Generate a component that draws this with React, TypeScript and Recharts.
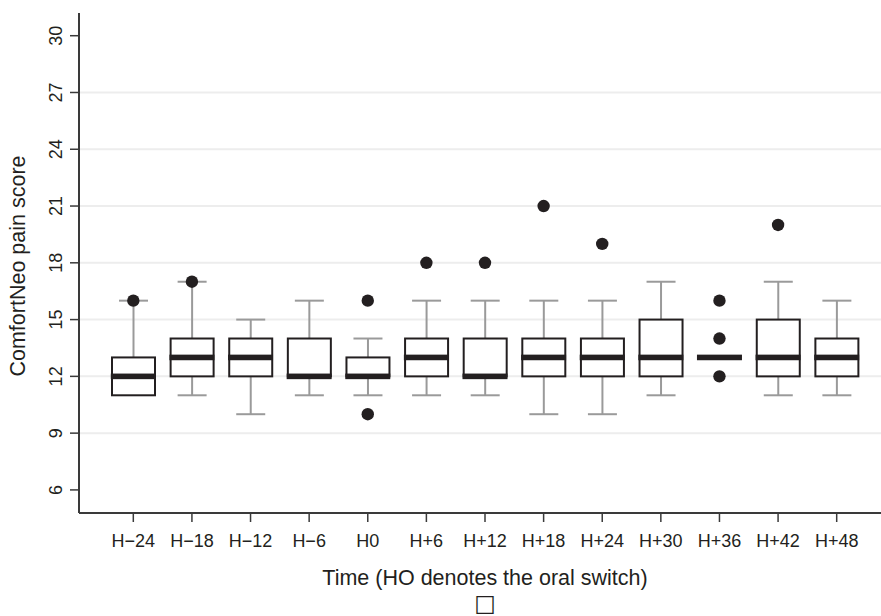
import { ComposedChart, Bar, Scatter, XAxis, YAxis, CartesianGrid } from "recharts"

// time points (H0 = oral switch)
const times = ["H−24", "H−18", "H−12", "H−6", "H0", "H+6", "H+12", "H+18", "H+24", "H+30", "H+36", "H+42", "H+48"]

// box plot statistics
const q1 = [11, 12, 12, 12, 12, 12, 12, 12, 12, 12, 13, 12, 12]
const medians = [12, 13, 13, 12, 12, 13, 12, 13, 13, 13, 13, 13, 13]
const q3 = [13, 14, 14, 14, 13, 14, 14, 14, 14, 15, 13, 15, 14]
const whiskerLow = [11, 11, 10, 11, 11, 11, 11, 10, 10, 11, 13, 11, 11]
const whiskerHigh = [16, 17, 15, 16, 14, 16, 16, 16, 16, 17, 13, 17, 16]

// outside values
const outlierTimes = ["H−24", "H−18", "H0", "H0", "H+6", "H+12", "H+18", "H+24", "H+36", "H+36", "H+36", "H+42"]
const outlierValues = [16, 17, 16, 10, 18, 18, 21, 19, 16, 14, 12, 20]

const yTicks = [6, 9, 12, 15, 18, 21, 24, 27, 30]
const gridValues = [9, 12, 15, 18, 21, 24, 27]

const ink = "#231f20"
const whiskerGrey = "#9a9a9a"
const font = "'Liberation Sans', Arial, sans-serif"

const chartData = times.map((time, i) => {
  const outs = outlierValues.filter((_, j) => outlierTimes[j] === time)
  return {
    time,
    box: [q1[i], q3[i]],
    lowWhisker: [whiskerLow[i], q1[i]],
    highWhisker: [q3[i], whiskerHigh[i]],
    median: medians[i],
    out1: outs[0] ?? null,
    out2: outs[1] ?? null,
    out3: outs[2] ?? null,
  }
})

const xPadding = { left: 25, right: 15 }

const BoxShape = (props: any) => {
  const { x, y, width, height } = props
  if (!height) return null
  const top = Math.min(y, y + height)
  return (
    <rect x={x + 1} y={top} width={width - 2} height={Math.abs(height)} fill="#fff" stroke={ink} strokeWidth={2} />
  )
}

const LowWhiskerShape = (props: any) => {
  const { x, y, width, height } = props
  if (!height) return null
  const top = Math.min(y, y + height)
  const bottom = Math.max(y, y + height)
  const cx = x + width / 2
  return (
    <g stroke={whiskerGrey} strokeWidth={2}>
      <line x1={cx} x2={cx} y1={top} y2={bottom} />
      <line x1={x} x2={x + width} y1={bottom} y2={bottom} />
    </g>
  )
}

const HighWhiskerShape = (props: any) => {
  const { x, y, width, height } = props
  if (!height) return null
  const top = Math.min(y, y + height)
  const bottom = Math.max(y, y + height)
  const cx = x + width / 2
  return (
    <g stroke={whiskerGrey} strokeWidth={2}>
      <line x1={cx} x2={cx} y1={top} y2={bottom} />
      <line x1={x} x2={x + width} y1={top} y2={top} />
    </g>
  )
}

const MedianShape = (props: any) => {
  const { cx, cy } = props
  if (!Number.isFinite(cx) || !Number.isFinite(cy)) return null
  return <rect x={cx - 22.5} y={cy - 2.8} width={45} height={5.6} fill={ink} />
}

const DotShape = (props: any) => {
  const { cx, cy } = props
  if (!Number.isFinite(cx) || !Number.isFinite(cy)) return null
  return <circle cx={cx} cy={cy} r={6.2} fill={ink} />
}

const YTick = (props: any) => {
  const { x, y, payload } = props
  return (
    <text x={x} y={y} transform={`rotate(-90, ${x}, ${y})`} textAnchor="middle" fill={ink} fontSize={18} fontFamily={font}>
      {payload.value}
    </text>
  )
}

const YLabel = (props: any) => {
  const vb = props.viewBox
  const cx = vb.x + 25
  const cy = vb.y + vb.height / 2 + 3
  return (
    <text x={cx} y={cy} transform={`rotate(-90, ${cx}, ${cy})`} textAnchor="middle" fill={ink} fontSize={21.5} fontFamily={font}>
      ComfortNeo pain score
    </text>
  )
}

const XLabel = (props: any) => {
  const vb = props.viewBox
  const cx = vb.x + vb.width / 2
  return (
    <g>
      <text x={cx + 5} y={vb.y + 72} textAnchor="middle" fill={ink} fontSize={21.5} fontFamily={font}>
        Time (HO denotes the oral switch)
      </text>
      <text x={cx + 5} y={vb.y + 98} textAnchor="middle" fill={ink} fontSize={23} fontFamily="'DejaVu Sans', sans-serif">
        □
      </text>
    </g>
  )
}

export default function App() {
  return (
    <div style={{ position: "absolute", left: 0, top: 0, width: 881, height: 616, background: "#fff" }}>
      <ComposedChart width={881} height={616} data={chartData} margin={{ top: 13, right: 0, bottom: 0, left: 0 }}>
        <CartesianGrid horizontal vertical={false} horizontalValues={gridValues} stroke="#ededed" strokeWidth={2} />
        <XAxis
          dataKey="time"
          type="category"
          padding={xPadding}
          height={103}
          interval={0}
          tickSize={9}
          tickMargin={12}
          axisLine={{ stroke: "#3a3a3a", strokeWidth: 2 }}
          tickLine={{ stroke: "#3a3a3a", strokeWidth: 1.5 }}
          tick={{ fill: ink, fontSize: 18, fontFamily: font }}
          label={XLabel}
        />
        <XAxis xAxisId="lo" dataKey="time" type="category" padding={xPadding} hide />
        <XAxis xAxisId="hi" dataKey="time" type="category" padding={xPadding} hide />
        <YAxis
          type="number"
          domain={[4.78, 31.2]}
          ticks={yTicks}
          allowDataOverflow
          width={79}
          tickSize={9}
          tickMargin={8}
          axisLine={{ stroke: "#3a3a3a", strokeWidth: 2 }}
          tickLine={{ stroke: "#3a3a3a", strokeWidth: 1.5 }}
          tick={YTick}
          label={YLabel}
        />
        <Bar xAxisId="lo" dataKey="lowWhisker" barSize={29} shape={LowWhiskerShape} isAnimationActive={false} />
        <Bar xAxisId="hi" dataKey="highWhisker" barSize={29} shape={HighWhiskerShape} isAnimationActive={false} />
        <Bar dataKey="box" barSize={45} shape={BoxShape} isAnimationActive={false} />
        <Scatter dataKey="median" shape={MedianShape} isAnimationActive={false} />
        <Scatter dataKey="out1" shape={DotShape} isAnimationActive={false} />
        <Scatter dataKey="out2" shape={DotShape} isAnimationActive={false} />
        <Scatter dataKey="out3" shape={DotShape} isAnimationActive={false} />
      </ComposedChart>
    </div>
  )
}
